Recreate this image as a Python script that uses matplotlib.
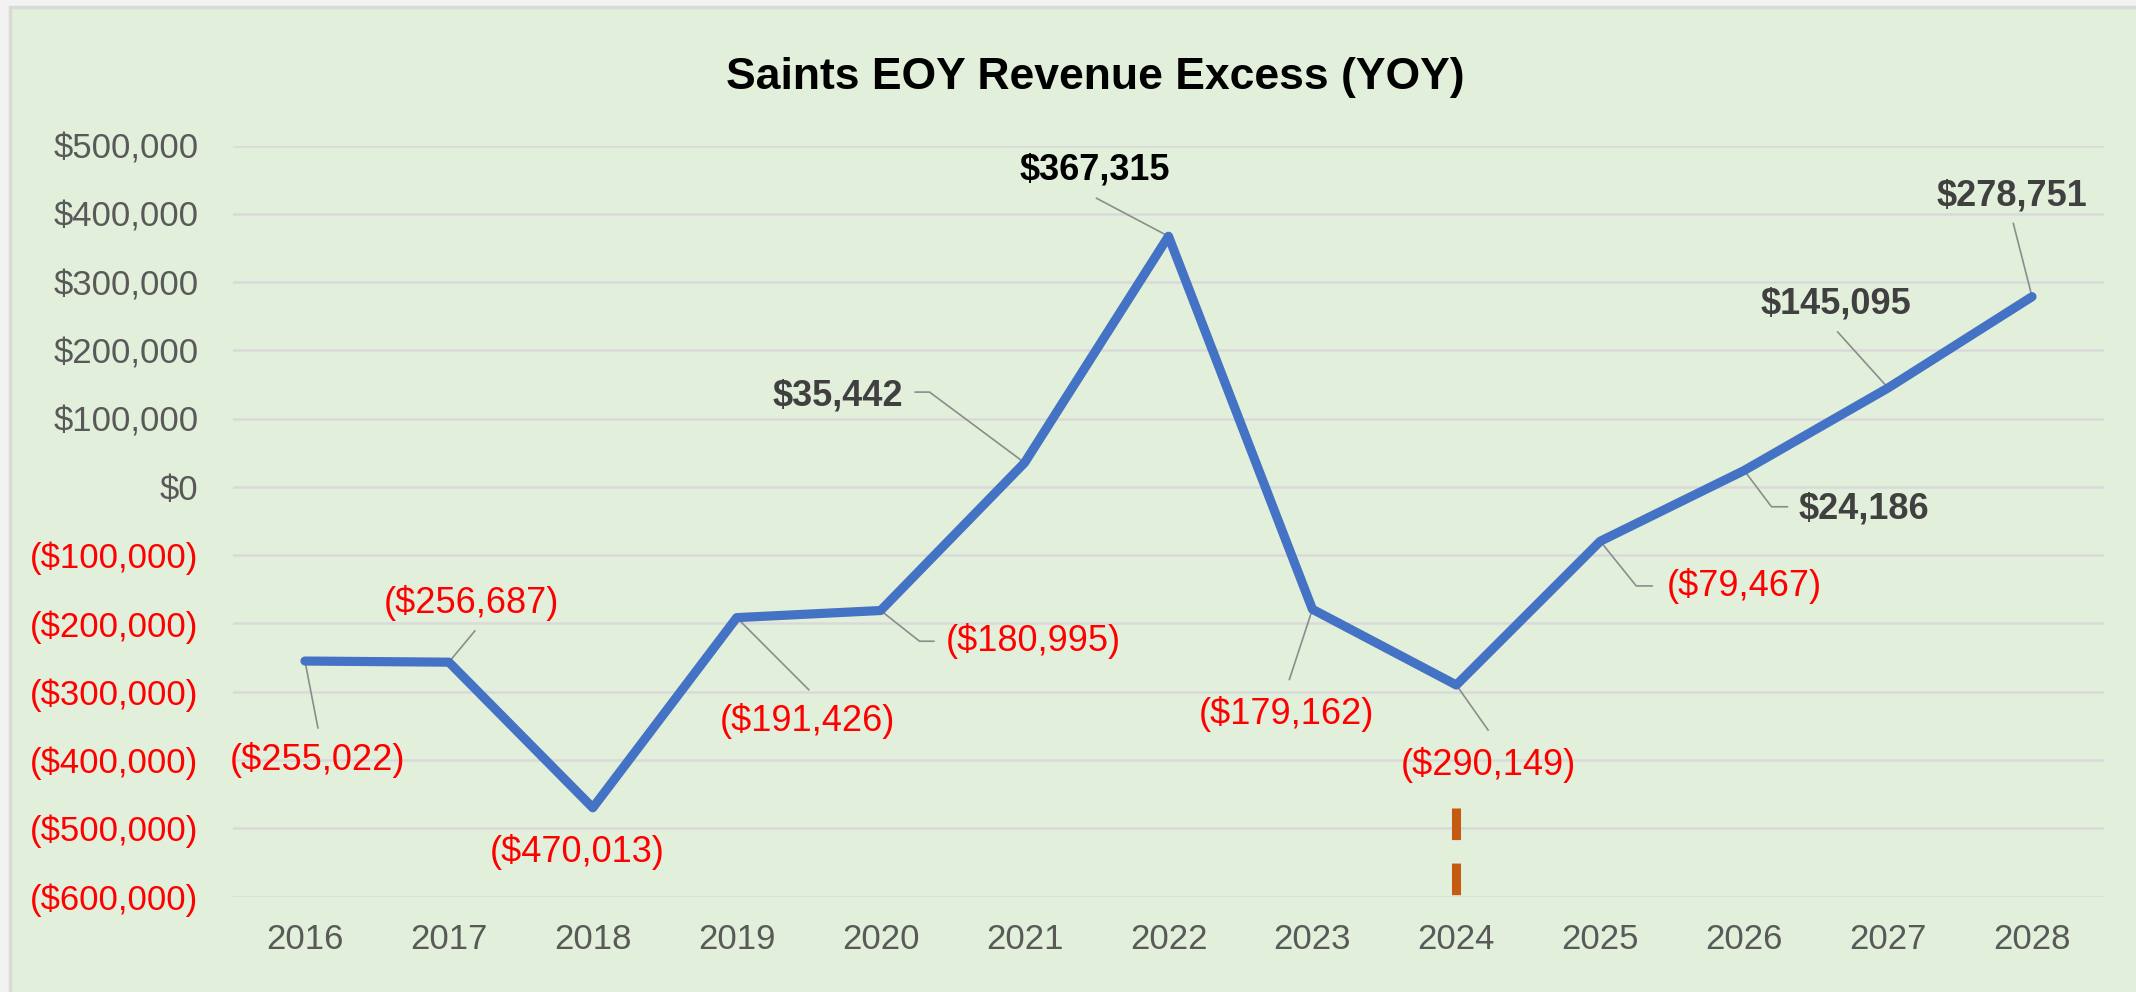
import matplotlib
matplotlib.use("Agg")
import matplotlib.pyplot as plt
from matplotlib.patches import Rectangle

plt.rcParams['font.family'] = ['Liberation Sans', 'DejaVu Sans']

years = [2016, 2017, 2018, 2019, 2020, 2021, 2022, 2023, 2024, 2025, 2026, 2027, 2028]
excess = [-255022, -256687, -470013, -191426, -180995, 35442, 367315,
          -179162, -290149, -79467, 24186, 145095, 278751]
y_ticks = [500000, 400000, 300000, 200000, 100000, 0, -100000,
           -200000, -300000, -400000, -500000, -600000]
marker_year = 2024

# label centres (category index, value) and leader waypoints
label_pos = [(0.09, -400000), (1.16, -170000), (1.89, -535000), (3.49, -343000),
             (5.06, -226000), (3.70, 134000), (5.49, 465000), (6.82, -332000),
             (8.22, -407000), (10.0, -145000), (10.83, -32000), (10.64, 268000),
             (11.86, 426000)]
leaders = [[(0.09, -353000)], [(1.18, -211000)], [], [(3.50, -297000)],
           [(4.37, -226000), (4.27, -226000)], [(4.24, 139000), (4.34, 139000)],
           [(5.50, 423000)], [(6.84, -282000)], [(8.22, -356000)],
           [(9.36, -145000), (9.25, -145000)], [(10.30, -29000), (10.19, -29000)],
           [(10.65, 227000)], [(11.87, 386000)]]


def money(v):
    if v < 0:
        return "(${:,.0f})".format(-v)
    return "${:,.0f}".format(v)


W, H = 2136, 992
fig = plt.figure(figsize=(W / 100, H / 100), dpi=100)
fig.patch.set_facecolor('#F2F2F2')
fig.patches.append(Rectangle((10 / W, -0.05), 1.1, 1.05 - 7 / H, transform=fig.transFigure,
                             facecolor='#E2EFDA', edgecolor='#D9D9D9', lw=2.5, zorder=-10))

ax = fig.add_axes([233 / W, (H - 896.5) / H, (2104 - 233) / W, 750.8 / H])
ax.set_facecolor('none')
x = list(range(len(years)))

ax.set_xlim(-0.5, len(years) - 0.5)
ax.set_ylim(-600000, 500000)
ax.set_yticks(y_ticks)
ax.set_yticklabels([money(v) if v != 0 else "$0" for v in y_ticks])
for lab, v in zip(ax.get_yticklabels(), y_ticks):
    lab.set_color('#FF0000' if v < 0 else '#595959')
ax.set_xticks(x)
ax.set_xticklabels([str(y) for y in years], color='#595959')
ax.tick_params(axis='y', length=0, pad=25, labelsize=25)
ax.tick_params(axis='x', length=0, pad=19, labelsize=25)
ax.grid(axis='y', color='#D9D9D9', lw=1.8)
ax.set_axisbelow(True)
for s in ax.spines.values():
    s.set_visible(False)

# leader lines
for i, pts in enumerate(leaders):
    if not pts:
        continue
    px = [p[0] for p in pts] + [x[i]]
    py = [p[1] for p in pts] + [excess[i]]
    ax.plot(px, py, color='#8C8C8C', lw=1.2, zorder=2)

ax.plot(x, excess, color='#4472C4', lw=6.6, solid_joinstyle='round',
        solid_capstyle='round', zorder=3)

# orange dashed marker under 2024
mi = years.index(marker_year)
ax.plot([mi, mi], [-471000, -600000], color='#C55A11', lw=6.5,
        dashes=(3.5, 2.6), dash_capstyle='butt', zorder=3)

for i, v in enumerate(excess):
    tx, ty = label_pos[i]
    if v < 0:
        ax.text(tx, ty, money(v), color='#FF0000', fontsize=26, ha='center', va='center', zorder=4)
    else:
        c = '#000000' if v == max(excess) else '#404040'
        ax.text(tx, ty, money(v), color=c, fontsize=26, fontweight='bold',
                ha='center', va='center', zorder=4)

fig.text(1095 / W, 1 - 78 / H, "Saints EOY Revenue Excess (YOY)", fontsize=32,
         fontweight='bold', color='#000000', ha='center', va='center')

fig.savefig('out.png', dpi=100, facecolor=fig.get_facecolor())
